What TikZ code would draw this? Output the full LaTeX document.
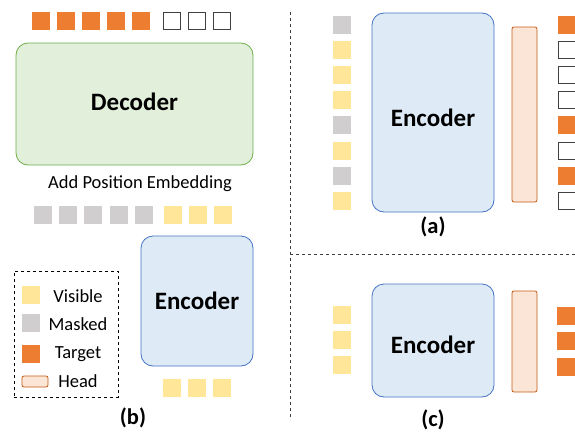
\documentclass[tikz,border=0pt]{standalone}
\usepackage{fontspec}
\setmainfont{Carlito}
\usetikzlibrary{positioning}
\definecolor{viscol}{HTML}{FFE699}
\definecolor{maskcol}{HTML}{D0CECE}
\definecolor{targcol}{HTML}{ED7D31}
\definecolor{decfill}{HTML}{E2EFDA}
\definecolor{decline}{HTML}{70AD47}
\definecolor{encfill}{HTML}{DEEBF7}
\definecolor{encline}{HTML}{4472C4}
\definecolor{headfill}{HTML}{FBE5D6}
\definecolor{headline}{HTML}{C55A11}
\tikzset{token/.style={inner sep=0pt,minimum size=18pt}}
\tikzset{visible/.style={token,fill=viscol}}
\tikzset{masked/.style={token,fill=maskcol}}
\tikzset{target/.style={token,fill=targcol}}
\tikzset{empty/.style={token,draw=black!75,line width=0.9pt,minimum size=17pt}}
\tikzset{block/.style={rounded corners=12pt,line width=0.8pt,font=\fontsize{25}{28}\selectfont\bfseries}}
\tikzset{encoder/.style={block,draw=encline,fill=encfill}}
\tikzset{decoder/.style={block,draw=decline,fill=decfill}}
\tikzset{head/.style={draw=headline,fill=headfill,rounded corners=2pt,line width=0.8pt,minimum width=25pt}}
\tikzset{caption/.style={font=\fontsize{22.5}{26}\selectfont\bfseries}}
\tikzset{label/.style={font=\fontsize{18.5}{22}\selectfont}}

\begin{document}
\begin{tikzpicture}[x=1pt,y=-1pt]
	\useasboundingbox (0,0) rectangle (575,431);

	% (b) decoder / encoder
	\node[decoder,minimum width=237pt,minimum height=122pt,text depth=4pt] (dec) at (134.5,104) {Decoder};
	\foreach \i in {0,...,4}
		\node[target] (dt\i) at (41+25*\i,21) {};
	\foreach \i in {0,...,2}
		\node[empty] (de\i) at (172+25*\i,21) {};
	\node[label] (pos) at (140,184) {Add Position Embedding};
	\foreach \i in {0,...,4}
		\node[masked] (dm\i) at (43+25.2*\i,215) {};
	\foreach \i in {0,...,2}
		\node[visible] (dv\i) at (173+25*\i,215) {};
	\node[encoder,minimum width=112pt,minimum height=130pt] (encb) at (197,301) {Encoder};
	\foreach \i in {0,...,2}
		\node[visible] (bv\i) at (172+25*\i,388) {};
	\node[caption] (capb) at (133,418) {(b)};

	% legend
	\node[draw,dashed,line width=0.8pt,minimum width=104pt,minimum height=126pt] (legend) at (66,334) {};
	\node[visible] (lv) at (31,295) {};
	\node[label] at (78,296) {Visible};
	\node[masked] (lm) at (31,323) {};
	\node[label] at (78,324) {Masked};
	\node[target] (lt) at (31,354) {};
	\node[label] at (78,354) {Target};
	\node[head,minimum width=26pt,minimum height=11pt,inner sep=0pt] (lh) at (35,381.5) {};
	\node[label] at (78,381) {Head};

	% (a)
	\node[encoder,minimum width=122pt,minimum height=199pt,text height=27pt,text depth=0pt] (enca) at (433,112.5) {Encoder};
	\node[head,minimum height=175pt] (heada) at (524.5,114.5) {};
	\foreach \s [count=\i from 0] in {masked,visible,visible,visible,masked,visible,masked,visible}
		\node[\s] (ai\i) at (342,24.5+25.2*\i) {};
	\foreach \s [count=\i from 0] in {target,empty,empty,empty,target,empty,target,empty}
		\node[\s] (ao\i) at (566.5,24.5+25.2*\i) {};
	\node[caption] (capa) at (433,227) {(a)};

	% (c)
	\node[encoder,minimum width=122pt,minimum height=113pt,text height=26pt,text depth=0pt] (encc) at (433,340.5) {Encoder};
	\node[head,minimum height=101pt] (headc) at (524.5,341.5) {};
	\foreach \i in {0,...,2}
		\node[visible] (ci\i) at (342,314.5+25.2*\i) {};
	\foreach \i in {0,...,2}
		\node[target] (co\i) at (566,315.5+25.5*\i) {};
	\node[caption] (capc) at (433,420) {(c)};

	% separators
	\coordinate (vtop) at (290,12);
	\coordinate (vbot) at (290,420);
	\coordinate (hl) at (290,254);
	\coordinate (hr) at (575,254);
	\draw[dashed,line width=0.8pt,black!75] (vtop) -- (vbot);
	\draw[dashed,line width=0.8pt,black!75] (hl) -- (hr);
\end{tikzpicture}
\end{document}
